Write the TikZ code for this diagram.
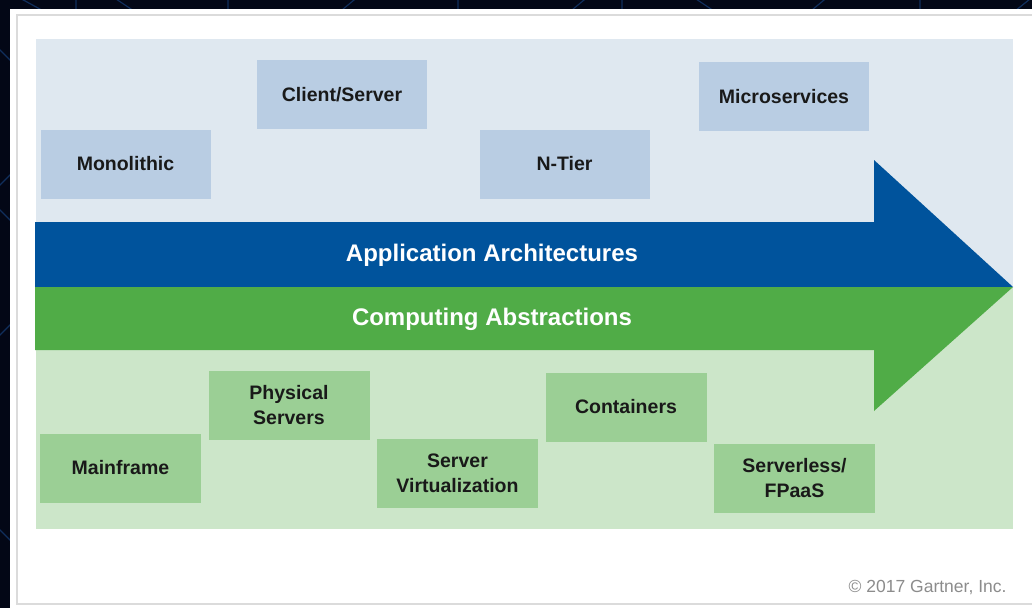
\documentclass[tikz,border=0pt]{standalone}
\usepackage{fontspec}
\setmainfont{Liberation Sans}
\usetikzlibrary{positioning}

\definecolor{slidebg}{RGB}{3,7,22}
\definecolor{slideline}{RGB}{16,46,92}
\definecolor{bandblue}{RGB}{223,232,240}
\definecolor{bandgreen}{RGB}{204,230,201}
\definecolor{boxblue}{RGB}{185,205,227}
\definecolor{boxgreen}{RGB}{155,207,149}
\definecolor{arrowblue}{RGB}{0,83,156}
\definecolor{arrowgreen}{RGB}{80,172,71}

\begin{document}
\begin{tikzpicture}[x=1pt, y=-1pt]%
            \tikzstyle{archbox}=[rectangle, fill=boxblue, minimum width=170pt, minimum height=69pt, inner sep=0pt, font=\bfseries\fontsize{19.5}{25}\selectfont, text=black!90];%
            \tikzstyle{compbox}=[archbox, fill=boxgreen, minimum width=161pt, align=center];%
            \tikzstyle{bandlabel}=[font=\bfseries\fontsize{24}{28}\selectfont, text=white];%
            \useasboundingbox (0, 0) rectangle (1032, 608);

            % slide background
            \fill[slidebg] (0, 0) rectangle (1032, 608);
            \draw[slideline, line width=1.2pt] (5, -10) -- (60, 20) (110, -5) -- (140, 15) (76, -2) -- (76, 20)
                (330, 20) -- (360, -5) (228, -5) -- (228, 20) (458, -5) -- (458, 20)
                (560, 20) -- (590, -5) (622, -5) -- (622, 20) (690, -5) -- (720, 15)
                (800, 20) -- (830, -5) (920, -5) -- (920, 20) (1010, 15) -- (1035, -5)
                (-5, 45) -- (15, 65) (-5, 190) -- (15, 170) (-5, 205) -- (15, 225)
                (-5, 340) -- (15, 320) (-5, 525) -- (15, 545);

            % white panel
            \fill[white] (10, 9) rectangle (1040, 615);
            \draw[black!14, line width=1.5pt] (17, 15) rectangle (1045, 604);

            % bands
            \fill[bandblue] (36, 39) rectangle (1013, 287);
            \fill[bandgreen] (36, 287) rectangle (1013, 529);

            % arrows
            \fill[arrowblue] (35, 222) -- (874, 222) -- (874, 160) -- (1013, 287) -- (35, 287) -- cycle;
            \fill[arrowgreen] (35, 287) -- (1013, 287) -- (874, 411) -- (874, 350) -- (35, 350) -- cycle;
            \node[bandlabel] (apparch) at (492, 255) {Application Architectures};
            \node[bandlabel] (compabs) at (492, 319) {Computing Abstractions};

            % application architectures
            \node[archbox] (mono) at (125.5, 164) {Monolithic};
            \node[archbox] (clientserver) at (342, 94.5) {Client/Server};
            \node[archbox] (ntier) at (564.5, 164) {N-Tier};
            \node[archbox] (micro) at (784, 96.5) {Microservices};

            % computing abstractions
            \node[compbox] (mainframe) at (120.5, 468) {Mainframe};
            \node[compbox] (physical) at (289, 405.5) {Physical\\Servers};
            \node[compbox] (virt) at (457.5, 473.5) {Server\\Virtualization};
            \node[compbox] (containers) at (626, 407) {Containers};
            \node[compbox] (serverless) at (794.5, 478) {Serverless/\\FPaaS};

            \node[anchor=east, text=black!45, font=\fontsize{17.5}{20}\selectfont] (copyright) at (1010, 587) {\textcopyright{} 2017 Gartner, Inc.};
        \end{tikzpicture}
\end{document}
